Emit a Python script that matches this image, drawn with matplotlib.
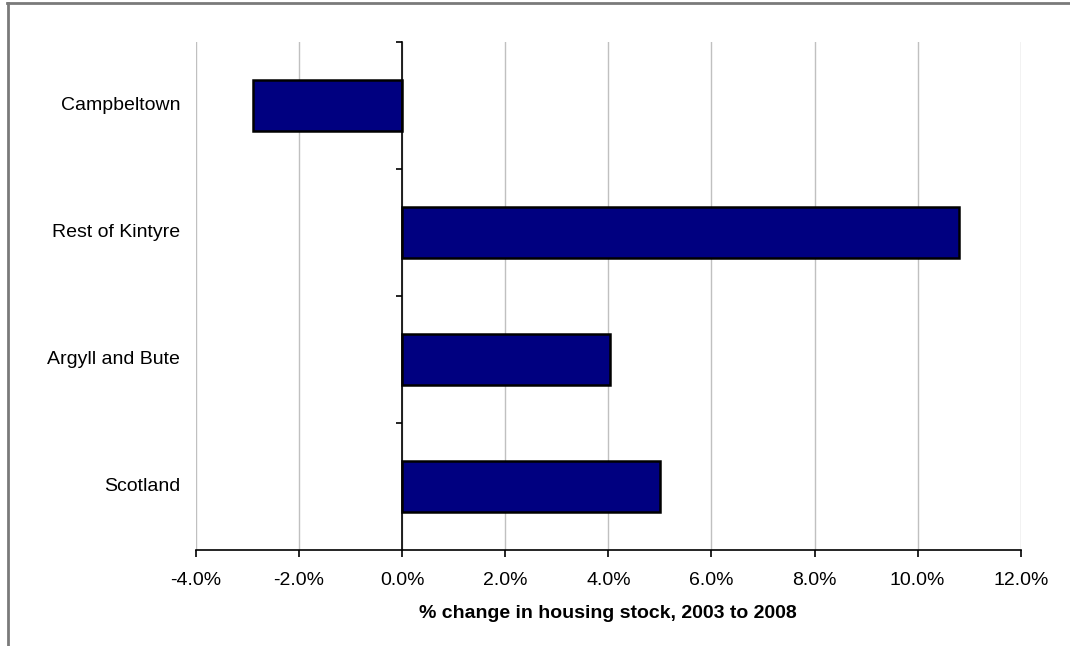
import matplotlib
matplotlib.use("Agg")
import matplotlib.pyplot as plt
from matplotlib.lines import Line2D
from matplotlib.ticker import FuncFormatter, FixedLocator
import matplotlib.transforms as mtransforms

plt.rcParams['font.family'] = ['Liberation Sans', 'DejaVu Sans']

# Housing stock change by area
areas = ["Campbeltown", "Rest of Kintyre", "Argyll and Bute", "Scotland"]
pct_change = [-2.89, 10.81, 4.04, 5.00]
x_ticks = [-4, -2, 0, 2, 4, 6, 8, 10, 12]

fig = plt.figure(figsize=(10.70, 6.46), dpi=100)
ax = fig.add_axes([196 / 1070, 1 - 550 / 646, (1020.7 - 196) / 1070, (550 - 42) / 646])

ypos = list(range(len(areas)))
ax.barh(ypos, pct_change, height=0.4, color="#000080", edgecolor="black",
        linewidth=1.8, zorder=3)

ax.set_xlim(x_ticks[0], x_ticks[-1])
ax.set_ylim(len(areas) - 0.5, -0.5)
ax.xaxis.set_major_locator(FixedLocator(x_ticks))
ax.xaxis.set_major_formatter(FuncFormatter(lambda v, p: f"{v:.1f}%"))
ax.grid(axis="x", color="#c0c0c0", linewidth=1.0, zorder=0)
ax.set_axisbelow(True)

for s in ("top", "right"):
    ax.spines[s].set_visible(False)
ax.spines["left"].set_position(("data", 0))
ax.spines["left"].set_linewidth(1.2)
ax.spines["bottom"].set_linewidth(1.2)
ax.spines["left"].set_zorder(4)

ax.tick_params(axis="x", direction="out", length=5, width=1.2, labelsize=14,
               pad=11, colors="black")
ax.set_yticks([])
ax.yaxis.set_minor_locator(FixedLocator([-0.5, 0.5, 1.5, 2.5]))
ax.tick_params(axis="y", which="minor", direction="out", length=4, width=1.2)

trans = mtransforms.blended_transform_factory(ax.transAxes, ax.transData)
for y, name in zip(ypos, areas):
    ax.text(-0.019, y, name, transform=trans, ha="right", va="center", fontsize=14)

ax.set_xlabel("% change in housing stock, 2003 to 2008", fontsize=14,
              fontweight="bold", labelpad=11)

# Outer frame (top and left edges)
fig.add_artist(Line2D([7.5 / 1070, 7.5 / 1070], [0, 1 - 2.5 / 646],
                      transform=fig.transFigure, color="#7a7a7a", linewidth=2.0))
fig.add_artist(Line2D([7 / 1070, 1], [1 - 2.5 / 646, 1 - 2.5 / 646],
                      transform=fig.transFigure, color="#7a7a7a", linewidth=2.0))

fig.savefig("out.png", dpi=100)
